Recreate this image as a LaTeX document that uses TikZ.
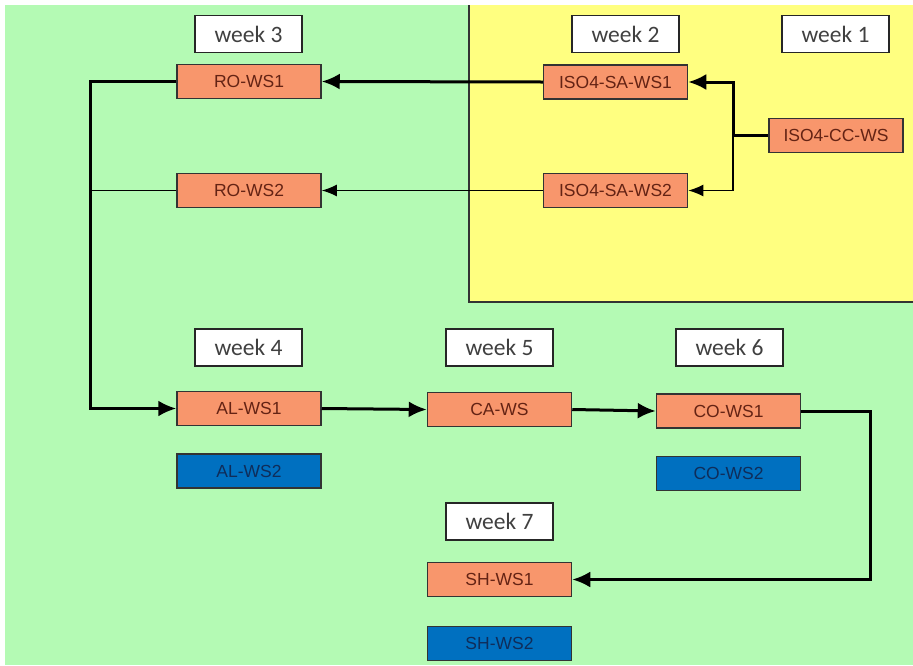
\documentclass[tikz,border=0pt]{standalone}
\usepackage{fontspec}
\setmainfont{Liberation Sans}
\newfontfamily\weekfont{Carlito}
\usetikzlibrary{arrows.meta}
\definecolor{bggreen}{RGB}{180,250,180}
\definecolor{bgyellow}{RGB}{255,255,128}
\definecolor{boxorange}{RGB}{248,150,108}
\definecolor{boxblue}{RGB}{0,112,192}
\definecolor{txtred}{RGB}{100,35,20}
\definecolor{txtblue}{RGB}{15,45,90}
\begin{document}
\begin{tikzpicture}[x=1pt,y=-1pt,
  weekbox/.style={draw=black!85,line width=1.5pt,fill=white,minimum width=107pt,minimum height=37pt,inner sep=0pt,font=\weekfont\fontsize{23.5}{24}\selectfont,text=black!75},
  taskbox/.style={draw=black!80,line width=1.5pt,fill=boxorange,minimum width=144pt,minimum height=34pt,inner sep=0pt,font=\fontsize{17.5}{18}\selectfont,text=txtred},
  altbox/.style={draw=black!80,line width=1.5pt,fill=boxblue,minimum width=144pt,minimum height=34pt,inner sep=0pt,font=\fontsize{17.5}{18}\selectfont,text=txtblue},
  thickcon/.style={line width=3pt,-{Latex[length=18pt,width=16pt]}},
  thincon/.style={line width=1.5pt,-{Latex[length=15pt,width=12pt]}},
  thickline/.style={line width=3pt},
  thinline/.style={line width=1.5pt}]
\useasboundingbox (0,0) rectangle (913,665);
\fill[white] (0,0) rectangle (913,665);
\fill[bggreen] (5,5) rectangle (913,665);
\fill[bgyellow] (469,5) rectangle (913,302);
\draw[line width=1.5pt,black!80] (469,5) -- (469,302) -- (913,302);

\node[weekbox] (w3) at (248.5,34) {week 3};
\node[weekbox] (w2) at (625.5,34) {week 2};
\node[weekbox] (w1) at (835.5,34) {week 1};
\node[weekbox] (w4) at (248.5,347.5) {week 4};
\node[weekbox] (w5) at (499.5,347.5) {week 5};
\node[weekbox] (w6) at (729.5,347.5) {week 6};
\node[weekbox] (w7) at (499.5,521.5) {week 7};

\node[taskbox] (ro1) at (249,81.5) {RO-WS1};
\node[taskbox] (sa1) at (615.5,82) {ISO4-SA-WS1};
\node[taskbox,minimum width=134pt] (cc) at (836,135.5) {ISO4-CC-WS};
\node[taskbox] (ro2) at (249,190.5) {RO-WS2};
\node[taskbox] (sa2) at (615.5,190.5) {ISO4-SA-WS2};
\node[taskbox] (al1) at (249,408.5) {AL-WS1};
\node[taskbox] (ca) at (499.5,409.5) {CA-WS};
\node[taskbox] (co1) at (728.5,411) {CO-WS1};
\node[altbox] (al2) at (249,471) {AL-WS2};
\node[altbox] (co2) at (728.5,473.5) {CO-WS2};
\node[taskbox] (sh1) at (499.5,579.5) {SH-WS1};
\node[altbox] (sh2) at (499.5,643.5) {SH-WS2};

\coordinate (jcc) at (733,135.5);
\coordinate (jro) at (90,81.5);
\coordinate (jro2) at (90,190.5);
\coordinate (jco) at (870,411);

\draw[thickline] (cc.west) -- (jcc);
\draw[thickcon] (jcc) |- (sa1.east);
\draw[thincon] (jcc) |- (sa2.east);
\draw[thickcon] (sa1.west) -- (ro1.east);
\draw[thincon] (sa2.west) -- (ro2.east);
\draw[thinline] (ro2.west) -- (jro2);
\draw[thickcon] (ro1.west) -- (jro) |- (al1.west);
\draw[thickcon] (al1.east) -- (ca.west);
\draw[thickcon] (ca.east) -- (co1.west);
\draw[thickcon] (co1.east) -- (jco) |- (sh1.east);
\end{tikzpicture}
\end{document}
